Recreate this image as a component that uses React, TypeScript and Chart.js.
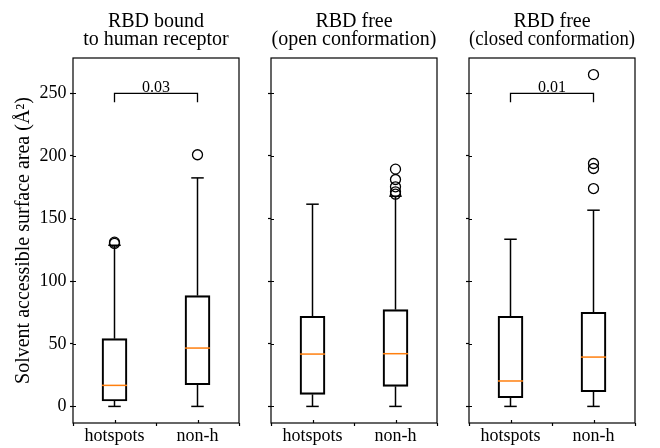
import React, { useEffect, useRef } from "react";
import { Chart, registerables } from "chart.js";

Chart.register(...registerables);

// ---------------- data ----------------
const panelTitles: string[][] = [
  ["RBD bound", "to human receptor"],
  ["RBD free", "(open conformation)"],
  ["RBD free", "(closed conformation)"],
];
const categories = ["hotspots", "non-h"];
const positions = [1, 2];
const yTicks = [0, 50, 100, 150, 200, 250];
const yLabel = "Solvent accessible surface area (Å²)";

// per panel: [hotspots, non-h]
const whiskerLow = [[0, 0], [0, 0], [0, 0]];
const q1 = [[4.3, 17.3], [9.6, 16.0], [6.9, 11.7]];
const medians = [[16.8, 46.6], [41.8, 42.1], [20.3, 39.4]];
const q3 = [[54.1, 88.5], [72.0, 77.3], [72.0, 75.2]];
const whiskerHigh = [[128.7, 182.5], [161.5, 167.9], [133.5, 156.7]];
const outliers = [
  [[130.2, 131.2], [201.0]],
  [[], [169.5, 171.4, 175.4, 181.2, 189.5]],
  [[], [174.0, 190.0, 194.0, 265.0]],
];
const pValues: (string | null)[] = ["0.03", null, "0.01"];
const bracketTop = 250;
const bracketBottom = 243;
const yMin = -13.25;
const yMax = 278.25;

// ---------------- layout ----------------
const W = 660;
const H = 448;
const panelLeft = [73, 271, 469];
const panelRight = [239, 437, 635];
const xAxisHeight = 25;
const FONT = "'Liberation Serif', 'Times New Roman', serif";
const BLACK = "#000000";
const ORANGE = "#ff7f0e";
const TICK_IN = 3;

Chart.defaults.font.family = FONT;

const framePlugin = {
  id: "frame",
  afterDatasetsDraw(chart: any, _args: any, opts: any) {
    const { ctx, chartArea, scales } = chart;
    ctx.save();
    ctx.strokeStyle = BLACK;
    ctx.lineWidth = 1.2;
    ctx.strokeRect(chartArea.left, chartArea.top, chartArea.right - chartArea.left, chartArea.bottom - chartArea.top);
    // inward half of the in-out tick marks
    ctx.beginPath();
    scales.y.ticks.forEach((_t: any, k: number) => {
      const py = Math.round(scales.y.getPixelForTick(k)) + 0.5;
      ctx.moveTo(chartArea.left, py);
      ctx.lineTo(chartArea.left + TICK_IN, py);
    });
    scales.x.ticks.forEach((_t: any, k: number) => {
      const px = Math.round(scales.x.getPixelForTick(k)) + 0.5;
      ctx.moveTo(px, chartArea.bottom);
      ctx.lineTo(px, chartArea.bottom - TICK_IN);
    });
    ctx.stroke();
    if (opts && opts.pText) {
      const x = scales.x.getPixelForValue((positions[0] + positions[1]) / 2);
      const y = scales.y.getPixelForValue(bracketTop);
      ctx.fillStyle = BLACK;
      ctx.font = `16px ${FONT}`;
      ctx.textAlign = "center";
      ctx.textBaseline = "alphabetic";
      ctx.fillText(opts.pText, x, y - 1);
    }
    ctx.restore();
  },
};

function buildDatasets(i: number) {
  const ds: any[] = [];
  ds.push({
    type: "scatter",
    data: positions.map((p, j) => ({ x: p, y: medians[i][j] })),
    pointStyle: "line",
    pointRadius: 12.5,
    pointBorderColor: ORANGE,
    pointBorderWidth: 1.5,
    order: 0,
  });
  ds.push({
    type: "scatter",
    data: positions.flatMap((p, j) => [
      { x: p, y: whiskerLow[i][j] },
      { x: p, y: whiskerHigh[i][j] },
    ]),
    pointStyle: "line",
    pointRadius: 6.25,
    pointBorderColor: BLACK,
    pointBorderWidth: 1.5,
    order: 1,
  });
  positions.forEach((p, j) => {
    ds.push({
      type: "line",
      data: [
        { x: p, y: whiskerLow[i][j] },
        { x: p, y: q1[i][j] },
      ],
      borderColor: BLACK,
      borderWidth: 1.5,
      pointRadius: 0,
      order: 2,
    });
    ds.push({
      type: "line",
      data: [
        { x: p, y: q3[i][j] },
        { x: p, y: whiskerHigh[i][j] },
      ],
      borderColor: BLACK,
      borderWidth: 1.5,
      pointRadius: 0,
      order: 2,
    });
  });
  ds.push({
    type: "scatter",
    data: positions.flatMap((p, j) => outliers[i][j].map((v) => ({ x: p, y: v }))),
    pointStyle: "circle",
    pointRadius: 5,
    pointBorderColor: BLACK,
    pointBackgroundColor: "rgba(0,0,0,0)",
    pointBorderWidth: 1.3,
    order: 3,
  });
  ds.push({
    type: "bar",
    data: positions.map((p, j) => ({ x: p, y: [q1[i][j], q3[i][j]] })),
    backgroundColor: "rgba(0,0,0,0)",
    borderColor: BLACK,
    borderWidth: 1.5,
    borderSkipped: false,
    barThickness: 25,
    order: 4,
  });
  if (pValues[i]) {
    ds.push({
      type: "line",
      data: [
        { x: positions[0], y: bracketBottom },
        { x: positions[0], y: bracketTop },
        { x: positions[1], y: bracketTop },
        { x: positions[1], y: bracketBottom },
      ],
      borderColor: BLACK,
      borderWidth: 1.3,
      pointRadius: 0,
      order: 5,
    });
  }
  return ds;
}

function Panel({ index }: { index: number }) {
  const ref = useRef<HTMLCanvasElement | null>(null);
  useEffect(() => {
    if (!ref.current) return;
    const i = index;
    const yWidth = i === 0 ? panelLeft[0] : 10;
    const gridOpts = {
      display: true,
      drawOnChartArea: false,
      drawTicks: true,
      tickLength: 3,
      tickColor: BLACK,
      tickWidth: 1.2,
    };
    const chart = new Chart(ref.current, {
      type: "bar",
      data: { datasets: buildDatasets(i) as any },
      options: {
        responsive: false,
        animation: false,
        events: [],
        layout: {
          padding: {
            left: panelLeft[i] - yWidth,
            right: W - panelRight[i],
            top: 0,
            bottom: 0,
          },
        },
        scales: {
          x: {
            type: "linear",
            min: 0.5,
            max: 2.5,
            offset: false,
            afterBuildTicks: (s: any) => {
              s.ticks = positions.map((v) => ({ value: v }));
            },
            afterFit: (s: any) => {
              s.height = xAxisHeight;
            },
            ticks: {
              autoSkip: false,
              maxRotation: 0,
              color: BLACK,
              padding: 1.5,
              font: { family: FONT, size: 18, lineHeight: 1 },
              callback: (_v: any, idx: number) => categories[idx],
            },
            grid: gridOpts,
            border: { display: false },
          },
          y: {
            type: "linear",
            min: yMin,
            max: yMax,
            afterBuildTicks: (s: any) => {
              s.ticks = yTicks.map((v) => ({ value: v }));
            },
            afterFit: (s: any) => {
              s.width = yWidth;
            },
            ticks: {
              display: i === 0,
              color: BLACK,
              padding: 3.5,
              font: { family: FONT, size: 18 },
            },
            grid: gridOpts,
            border: { display: false },
            title: {
              display: i === 0,
              text: yLabel,
              color: BLACK,
              font: { family: FONT, size: 20 },
              padding: { top: 12, bottom: 0 },
            },
          },
        },
        plugins: {
          legend: { display: false },
          tooltip: { enabled: false },
          title: {
            display: true,
            text: panelTitles[i],
            fullSize: false,
            color: BLACK,
            font: { family: FONT, size: 20, weight: "normal", lineHeight: "18.5px" },
            padding: { top: 12.4, bottom: 8.6 },
          },
          frame: { pText: pValues[i] },
        } as any,
      },
      plugins: [framePlugin],
    } as any);
    return () => chart.destroy();
  }, [index]);
  return (
    <canvas
      ref={ref}
      width={W}
      height={H}
      style={{ position: "absolute", left: 0, top: 0, width: W, height: H }}
    />
  );
}

export default function App() {
  return (
    <div
      style={{
        position: "fixed",
        left: 0,
        top: 0,
        width: W,
        height: H,
        background: "#ffffff",
      }}
    >
      {[0, 1, 2].map((i) => (
        <Panel key={i} index={i} />
      ))}
    </div>
  );
}
